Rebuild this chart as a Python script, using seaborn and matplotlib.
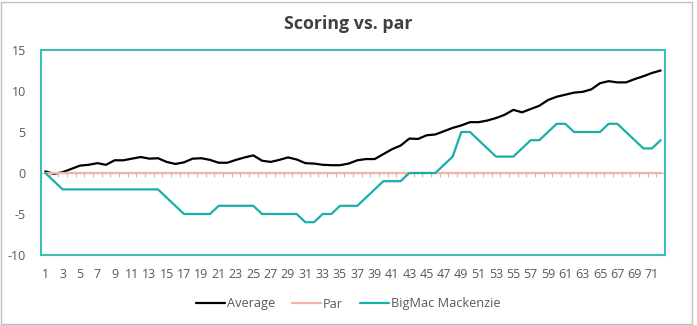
import matplotlib
matplotlib.use("Agg")
import matplotlib.pyplot as plt
import pandas as pd
import seaborn as sns
from matplotlib.patches import Rectangle

# ---------------- data ----------------
holes = list(range(1, 73))
average = [0.2, -0.1, 0.1, 0.5, 0.9, 1.0, 1.2, 1.0, 1.55, 1.55,
           1.75, 1.95, 1.75, 1.8, 1.35, 1.1, 1.3, 1.75, 1.8, 1.6,
           1.25, 1.25, 1.6, 1.9, 2.15, 1.5, 1.35, 1.6, 1.9, 1.65,
           1.2, 1.15, 1.0, 0.95, 0.95, 1.15, 1.55, 1.7, 1.7, 2.3,
           2.9, 3.35, 4.2, 4.15, 4.6, 4.7, 5.1, 5.5, 5.8, 6.2,
           6.2, 6.4, 6.7, 7.1, 7.7, 7.4, 7.8, 8.2, 8.9, 9.3,
           9.55, 9.8, 9.9, 10.2, 10.95, 11.2, 11.05, 11.05, 11.45, 11.8,
           12.2, 12.5]
par = [0] * 72
bigmac = [0, -1, -2, -2, -2, -2, -2, -2, -2, -2,
          -2, -2, -2, -2, -3, -4, -5, -5, -5, -5,
          -4, -4, -4, -4, -4, -5, -5, -5, -5, -5,
          -6, -6, -5, -5, -4, -4, -4, -3, -2, -1,
          -1, -1, 0, 0, 0, 0, 1, 2, 5, 5,
          4, 3, 2, 2, 2, 3, 4, 4, 5, 6,
          6, 5, 5, 5, 5, 6, 6, 5, 4, 3,
          3, 4]
series_names = ["Average", "Par", "BigMac Mackenzie"]
y_ticks = [-10, -5, 0, 5, 10, 15]
x_tick_positions = list(range(1, 73, 2))
x_tick_labels = [str(h) for h in x_tick_positions]
title = "Scoring vs. par"

# ---------------- style ----------------
sns.set_style("white")
plt.rcParams["font.family"] = ["Open Sans", "DejaVu Sans"]

black = "#000000"
salmon = "#F4B3A4"
teal = "#17B0A8"
border_teal = "#3DBDB6"
text_grey = "#595959"

df = pd.DataFrame({
    "hole": holes * 3,
    "score": average + par + bigmac,
    "series": [series_names[0]] * 72 + [series_names[1]] * 72 + [series_names[2]] * 72,
})

fig = plt.figure(figsize=(6.97, 3.25), dpi=100)
ax = fig.add_axes([41 / 697, 1 - 255 / 325, (665 - 41) / 697, (255 - 50) / 325])

sns.lineplot(data=df, x="hole", y="score", hue="series", hue_order=series_names,
             palette=[black, salmon, teal], linewidth=1.6, ax=ax, legend=True)

ax.set_xlim(0.5, 72.5)
ax.set_ylim(-10, 15)
ax.set_yticks(y_ticks)
ax.set_yticklabels([str(v) for v in y_ticks])
ax.set_xticks(x_tick_positions)
ax.set_xticklabels(x_tick_labels)
ax.set_xlabel("")
ax.set_ylabel("")
ax.tick_params(axis="y", length=0, pad=11, labelsize=9, labelcolor=text_grey)
ax.tick_params(axis="x", length=0, pad=9, labelsize=9, labelcolor=text_grey)

for sp in ax.spines.values():
    sp.set_color(border_teal)
    sp.set_linewidth(1.5)

# category axis drawn at y = 0 with tick marks between categories
sec = ax.secondary_xaxis(10 / 25)
sec.set_xticks([h + 0.5 for h in holes[:-1]])
sec.tick_params(axis="x", direction="out", length=3, width=0.8, color="#BFBFBF",
                labelbottom=False, labeltop=False)
sec.spines["bottom"].set_color(salmon)
sec.spines["bottom"].set_linewidth(0.8)

fig.text(0.5, 1 - 24 / 325, title, ha="center", va="center",
         fontsize=12.8, fontweight="bold", color="#404040")

handles, labels = ax.get_legend_handles_labels()
ax.legend_.remove()
fig.legend(handles, labels, loc="center", bbox_to_anchor=(0.5, 1 - 304 / 325),
           ncol=3, frameon=False, fontsize=9.2, handlelength=2.2,
           handletextpad=0.2, columnspacing=1.35, labelcolor=text_grey)

fig.patches.append(Rectangle((1 / 697, 1 / 325), 691 / 697, 322 / 325,
                             transform=fig.transFigure, fill=False,
                             edgecolor="#BFBFBF", linewidth=1.0))

fig.savefig("out.png", dpi=100, facecolor="white")
